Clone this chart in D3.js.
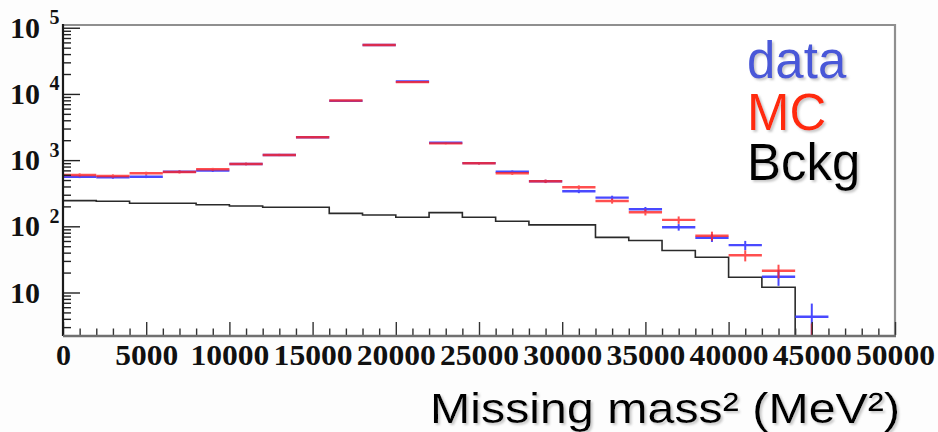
<!DOCTYPE html>
<html><head><meta charset="utf-8">
<script src="https://cdn.jsdelivr.net/npm/d3@7/dist/d3.min.js"></script>
<style>html,body{margin:0;padding:0;background:#fdfdfd;} svg{display:block}</style>
</head><body><svg id="c" width="938" height="432"></svg>
<script>
// ---- data ----
const binLow = [0,2000,4000,6000,8000,10000,12000,14000,16000,18000,20000,22000,24000,26000,28000,30000,32000,34000,36000,38000,40000,42000,44000];
const binWidth = 2000;
const dataValues = [562,551,562,669,693,875,1197,2215,7850,55000,15400,1830,900,669,480,338,271,181,97,67,52,17.3,4.3];
const dataErrors = [27,27,27,29,30,34,39,54,100,270,140,48,34,29,25,21,19,15,11,9,8.2,4.7,2.5];
const mcValues   = [597,576,633,663,728,875,1197,2215,7950,55000,15100,1790,896,633,479,389,241,163,125,72,36.5,21.3,1.2];
const mcErrors   = [33,32,34,35,36,40,46,63,120,315,165,57,40,34,29,26,21,17,16,11,7,5,2.2];
const bckgValues = [244,239,223,223,212,203,194,194,157,148,137,161,137,119,105,105,68,61,43,34,17,12,0];
const xTickLabels = [0,5000,10000,15000,20000,25000,30000,35000,40000,45000,50000];
const yTickValues = [10,100,1000,10000,100000];
const yTickExponents = ["","2","3","4","5"];
const legendLabels = ["data","MC","Bckg"];
const legendColors = ["#4a58d8","#ff2a10","#000000"];
const xTitle = "Missing mass\u00b2 (MeV\u00b2)";

// ---- layout ----
const m = {left:63, right:895, top:25, bottom:335};
const x = d3.scaleLinear().domain([0,50000]).range([m.left,m.right]);
const y = d3.scaleLog().domain([2.28, 1.1e5]).range([m.bottom, m.top]);
const ymin = y.domain()[0];
const yv = v => v > 1e-6 ? y(v) : m.bottom + 40;

const svg = d3.select('#c');
const defs = svg.append('defs');
defs.append('clipPath').attr('id','plotclip').append('rect')
  .attr('x',m.left).attr('y',m.top).attr('width',m.right-m.left).attr('height',m.bottom-m.top);
const f = defs.append('filter').attr('id','shadow').attr('x','-10%').attr('y','-10%').attr('width','130%').attr('height','130%');
f.append('feDropShadow').attr('dx',2).attr('dy',2).attr('stdDeviation',1).attr('flood-color','#bbbbbb').attr('flood-opacity',0.8);

svg.append('rect').attr('x',0).attr('y',0).attr('width',938).attr('height',432).attr('fill','#fdfdfd');
svg.append('rect').attr('x',m.left).attr('y',m.top).attr('width',m.right-m.left).attr('height',m.bottom-m.top).attr('fill','#ffffff');

// frame top / right (grey)
svg.append('path').attr('d',`M${m.left},${m.top}H${m.right}V${m.bottom}`)
  .attr('fill','none').attr('stroke','#8f8f8f').attr('stroke-width',2.2);

const plot = svg.append('g').attr('clip-path','url(#plotclip)');

// background histogram
const pts = binLow.map((b,i)=>[b, bckgValues[i]]);
pts.push([binLow[binLow.length-1]+binWidth, bckgValues[bckgValues.length-1]]);
plot.append('path').datum(pts)
  .attr('d', d3.line().x(d=>x(d[0])).y(d=>yv(d[1])).curve(d3.curveStepAfter))
  .attr('fill','none').attr('stroke','#2a2a2a').attr('stroke-width',1.6);

function drawSeries(vals, errs, color, opacity){
  const g = plot.append('g').attr('stroke',color).attr('stroke-width',2.4).attr('opacity',opacity);
  g.selectAll('line.h').data(binLow).join('line').attr('class','h')
    .attr('x1',(b)=>x(b)).attr('x2',(b)=>x(b+binWidth))
    .attr('y1',(b,i)=>yv(vals[i])).attr('y2',(b,i)=>yv(vals[i]));
  g.selectAll('line.v').data(binLow).join('line').attr('class','v')
    .attr('x1',(b)=>x(b+binWidth/2)).attr('x2',(b)=>x(b+binWidth/2))
    .attr('y1',(b,i)=>yv(Math.max(vals[i]-errs[i],1e-3))).attr('y2',(b,i)=>yv(vals[i]+errs[i]))
    .attr('stroke-width',2);
}
drawSeries(dataValues, dataErrors, '#3636ff', 0.9);
drawSeries(mcValues, mcErrors, '#ff2424', 0.8);

// ---- Y axis ----
const minorY = [];
[1,10,100,1000,10000].forEach(d=>{ for(let k=2;k<=9;k++){ const v=d*k; if(v>ymin && v<1.1e5) minorY.push(v);} });
const yMinorAxis = d3.axisLeft(y).tickValues(minorY).tickSizeInner(-8).tickSizeOuter(0).tickFormat(()=> "");
const yMajorAxis = d3.axisLeft(y).tickValues(yTickValues).tickSizeInner(-17).tickSizeOuter(0).tickFormat(()=> "");
const gy1 = svg.append('g').attr('transform',`translate(${m.left},0)`).call(yMinorAxis);
const gy2 = svg.append('g').attr('transform',`translate(${m.left},0)`).call(yMajorAxis);
[gy1,gy2].forEach(g=>{ g.select('.domain').remove(); g.selectAll('line').attr('stroke','#222').attr('stroke-width',1.4); });
gy2.selectAll('.tick text').remove();
gy2.selectAll('.tick').each(function(d,i){
  const t = d3.select(this);
  t.append('text').text('10').attr('x',-53).attr('y',9.5).attr('text-anchor','start')
    .attr('font-family','"Liberation Serif", "DejaVu Serif", serif').attr('font-weight','bold')
    .attr('font-size',30).attr('fill','#111').attr('textLength',30).attr('lengthAdjust','spacingAndGlyphs');
  if(yTickExponents[i]) t.append('text').text(yTickExponents[i]).attr('x',-13.5).attr('y',-4).attr('text-anchor','start')
    .attr('font-family','"Liberation Serif", "DejaVu Serif", serif').attr('font-weight','bold')
    .attr('font-size',20).attr('fill','#111');
});

// ---- X axis ----
const minorX = d3.range(0,50001,1000).filter(v=>v%5000!==0);
const xMinorAxis = d3.axisBottom(x).tickValues(minorX).tickSizeInner(-6.5).tickSizeOuter(0).tickFormat(()=> "");
const xMajorAxis = d3.axisBottom(x).tickValues(xTickLabels).tickSizeInner(-13).tickSizeOuter(0).tickFormat(d3.format('d'));
const gx1 = svg.append('g').attr('transform',`translate(0,${m.bottom})`).call(xMinorAxis);
const gx2 = svg.append('g').attr('transform',`translate(0,${m.bottom})`).call(xMajorAxis);
[gx1,gx2].forEach(g=>{ g.select('.domain').remove(); g.selectAll('line').attr('stroke','#333').attr('stroke-width',1.4); });
gx2.selectAll('.tick text').attr('dy',null).attr('y',30)
  .attr('font-family','"Liberation Serif", "DejaVu Serif", serif').attr('font-weight','bold')
  .attr('font-size',30).attr('fill','#111')
  .attr('textLength',d=> String(d).length*16 - 1).attr('lengthAdjust','spacingAndGlyphs');

// axis lines
svg.append('line').attr('x1',m.left).attr('x2',m.left).attr('y1',m.top-1).attr('y2',m.bottom+1)
  .attr('stroke','#1a1a1a').attr('stroke-width',2.2);
svg.append('line').attr('x1',m.left).attr('x2',m.right+1).attr('y1',m.bottom+1).attr('y2',m.bottom+1)
  .attr('stroke','#707070').attr('stroke-width',2.6);

// ---- X title ----
svg.append('text').text(xTitle).attr('x',430).attr('y',423)
  .attr('font-family','"Liberation Sans", Arial, sans-serif').attr('font-size',43).attr('fill','#000')
  .attr('textLength',470).attr('lengthAdjust','spacingAndGlyphs').attr('filter','url(#shadow)');

// ---- legend ----
const legendBaselines = [77.5, 130, 180];
svg.append('g').selectAll('text').data(legendLabels).join('text')
  .text(d=>d).attr('x',747).attr('y',(d,i)=>legendBaselines[i])
  .attr('font-family','"Liberation Sans", Arial, sans-serif').attr('font-size',51)
  .attr('fill',(d,i)=>legendColors[i]).attr('filter','url(#shadow)');
</script></body></html>
